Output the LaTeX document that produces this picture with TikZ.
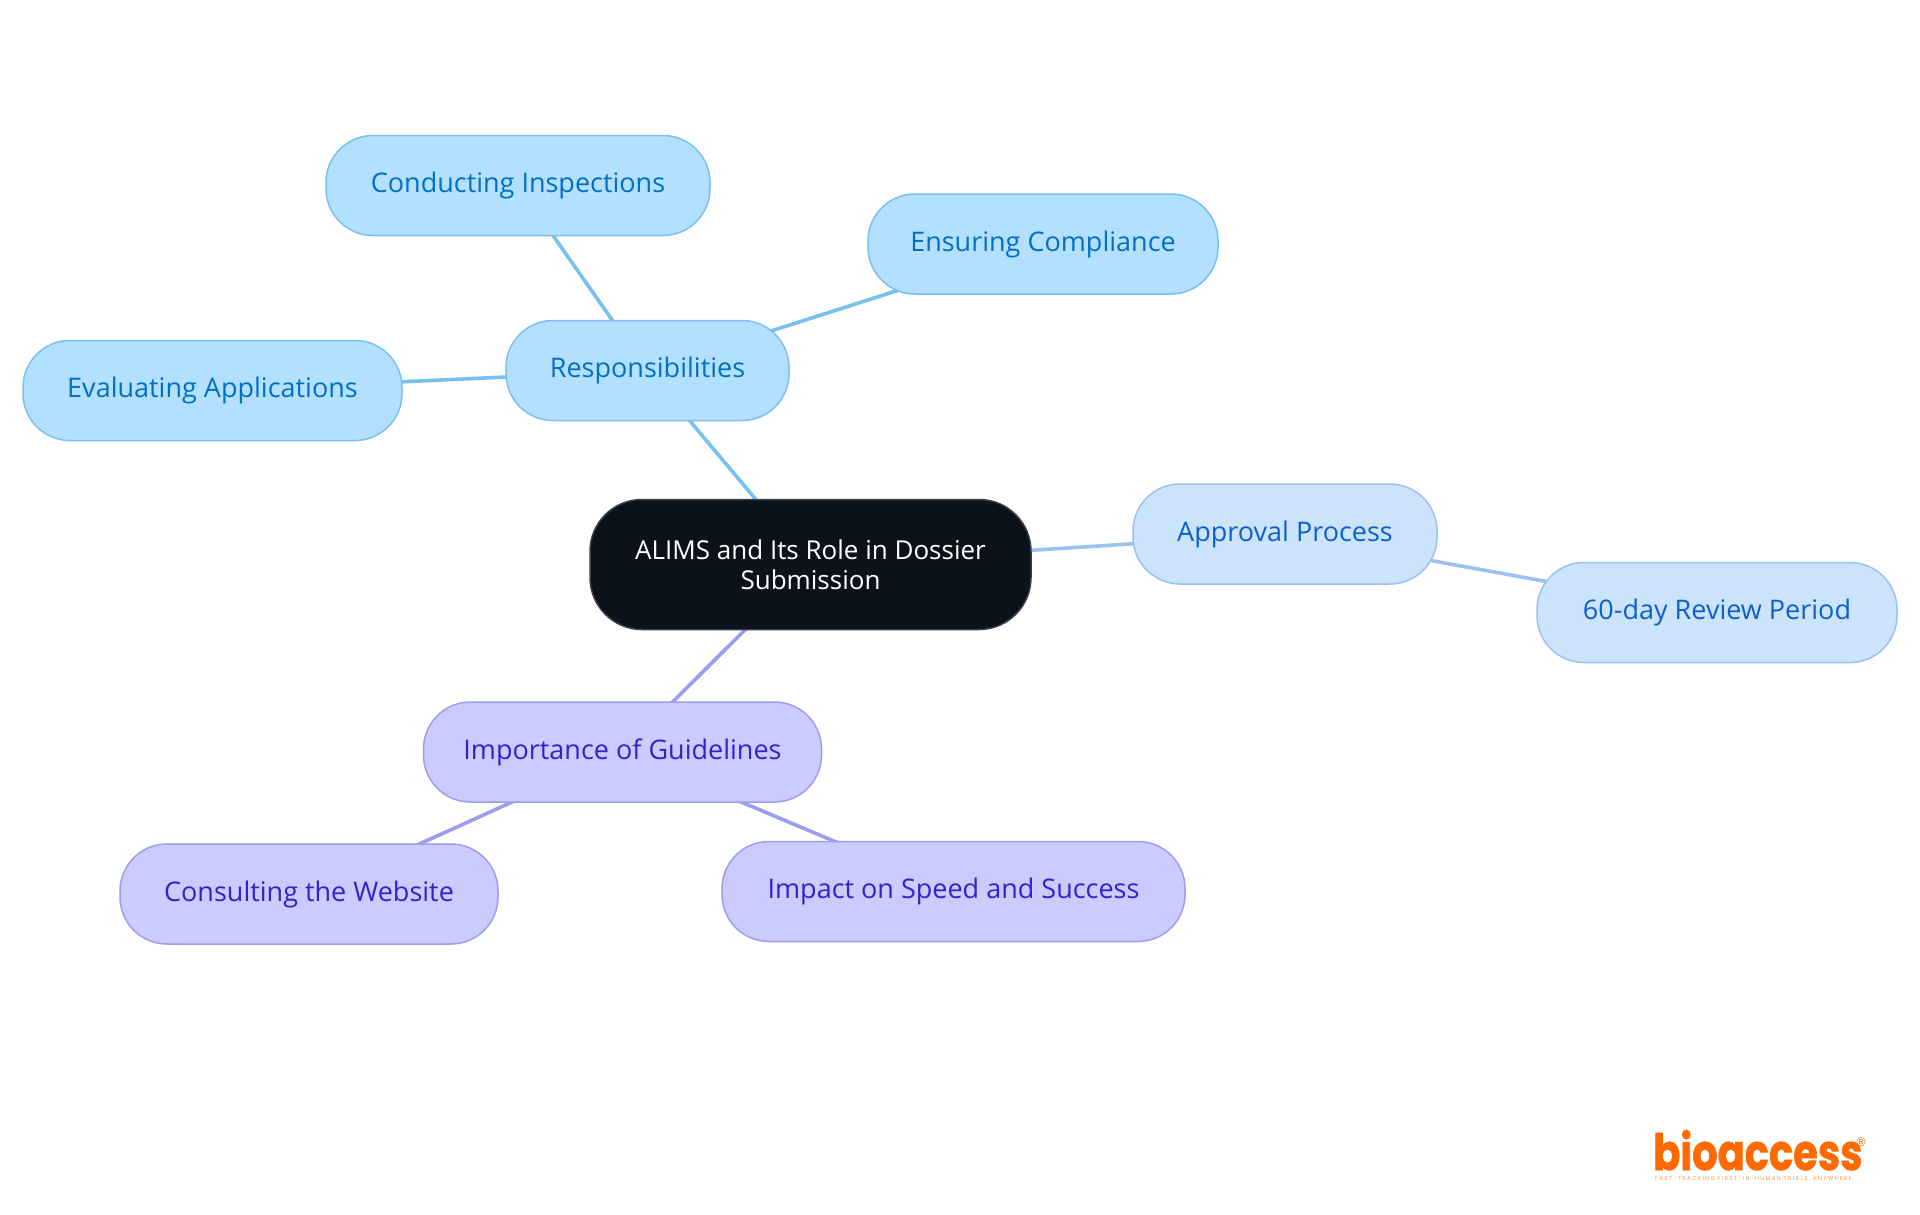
\documentclass[tikz,border=0pt]{standalone}
\usepackage{fontspec}
\setmainfont{Open Sans}
\newfontfamily\logofont[FakeStretch=0.8,FakeBold=1.2]{Poppins}
\newfontfamily\markfont{DejaVu Sans}
\newfontfamily\tagfont[LetterSpace=24]{Poppins}
\usetikzlibrary{backgrounds}
\definecolor{rootfill}{HTML}{0B121B}
\definecolor{rootline}{HTML}{3A3F46}
\definecolor{skyfill}{HTML}{B3E0FF}
\definecolor{skyline}{HTML}{78C0F0}
\definecolor{skytext}{HTML}{0070C4}
\definecolor{palefill}{HTML}{CCE3FC}
\definecolor{paleline}{HTML}{99C2F2}
\definecolor{paletext}{HTML}{0B60CC}
\definecolor{violetfill}{HTML}{CBCBFF}
\definecolor{violetline}{HTML}{9C9CF0}
\definecolor{violettext}{HTML}{3322CC}
\definecolor{logoorange}{HTML}{FF6A00}
\tikzset{
	mapnode/.style={draw,line width=1.5pt,rounded corners=47pt,inner sep=0pt,minimum height=100pt,font=\fontsize{27}{30}\selectfont},
	rootnode/.style={mapnode,fill=rootfill,draw=rootline,text=white,rounded corners=52pt,minimum height=130pt,align=center,font=\fontsize{26}{30}\selectfont},
	skynode/.style={mapnode,fill=skyfill,draw=skyline,text=skytext},
	palenode/.style={mapnode,fill=palefill,draw=paleline,text=paletext},
	violetnode/.style={mapnode,fill=violetfill,draw=violetline,text=violettext},
	skylink/.style={draw=skyline,line width=3.6pt},
	palelink/.style={draw=paleline,line width=3.6pt},
	violetlink/.style={draw=violetline,line width=3.6pt}
}
\begin{document}
\begin{tikzpicture}[x=1pt,y=-1pt]
	\useasboundingbox (0,0) rectangle (1920,1215);
	\node[rootnode,minimum width=441pt] (root) at (810.5,564.5) {ALIMS and Its Role in Dossier\\Submission};
	\node[skynode,minimum width=283pt] (resp) at (647.5,370.5) {Responsibilities};
	\node[skynode,minimum width=384pt] (insp) at (518,185.5) {Conducting Inspections};
	\node[skynode,minimum width=350pt] (compl) at (1043,244) {Ensuring Compliance};
	\node[skynode,minimum width=379pt] (eval) at (212.5,390.5) {Evaluating Applications};
	\node[palenode,minimum width=304pt] (appr) at (1285,534) {Approval Process};
	\node[palenode,minimum width=360pt] (review) at (1717,612.5) {60-day Review Period};
	\node[violetnode,minimum width=398pt] (guide) at (622.5,752) {Importance of Guidelines};
	\node[violetnode,minimum width=378pt] (web) at (309,894) {Consulting the Website};
	\node[violetnode,minimum width=463pt] (speed) at (953.5,891.5) {Impact on Speed and Success};
	\begin{scope}[on background layer]
	\draw[skylink] (root.center) -- (resp.center);
	\draw[skylink] (resp.center) -- (insp.center);
	\draw[skylink] (resp.center) -- (compl.center);
	\draw[skylink] (resp.center) -- (eval.center);
	\draw[palelink] (root.center) -- (appr.center);
	\draw[palelink] (appr.center) -- (review.center);
	\draw[violetlink] (root.center) -- (guide.center);
	\draw[violetlink] (guide.center) -- (web.center);
	\draw[violetlink] (guide.center) -- (speed.center);
	\end{scope}
	% logo
	\node[anchor=base west,inner sep=0pt,text=logoorange,font=\logofont\bfseries\fontsize{50}{50}\selectfont] (logo) at (1653,1170) {bioaccess};
	\node[inner sep=0pt,text=logoorange,font=\markfont\fontsize{12}{12}\selectfont] (regmark) at (1861,1142) {®};
	\node[anchor=base west,inner sep=0pt,text=logoorange!70,font=\tagfont\fontsize{5.6}{6}\selectfont] (tagline) at (1655,1180) {FAST-TRACKING FIRST-IN-HUMAN TRIALS, ANYWHERE};
\end{tikzpicture}
\end{document}
